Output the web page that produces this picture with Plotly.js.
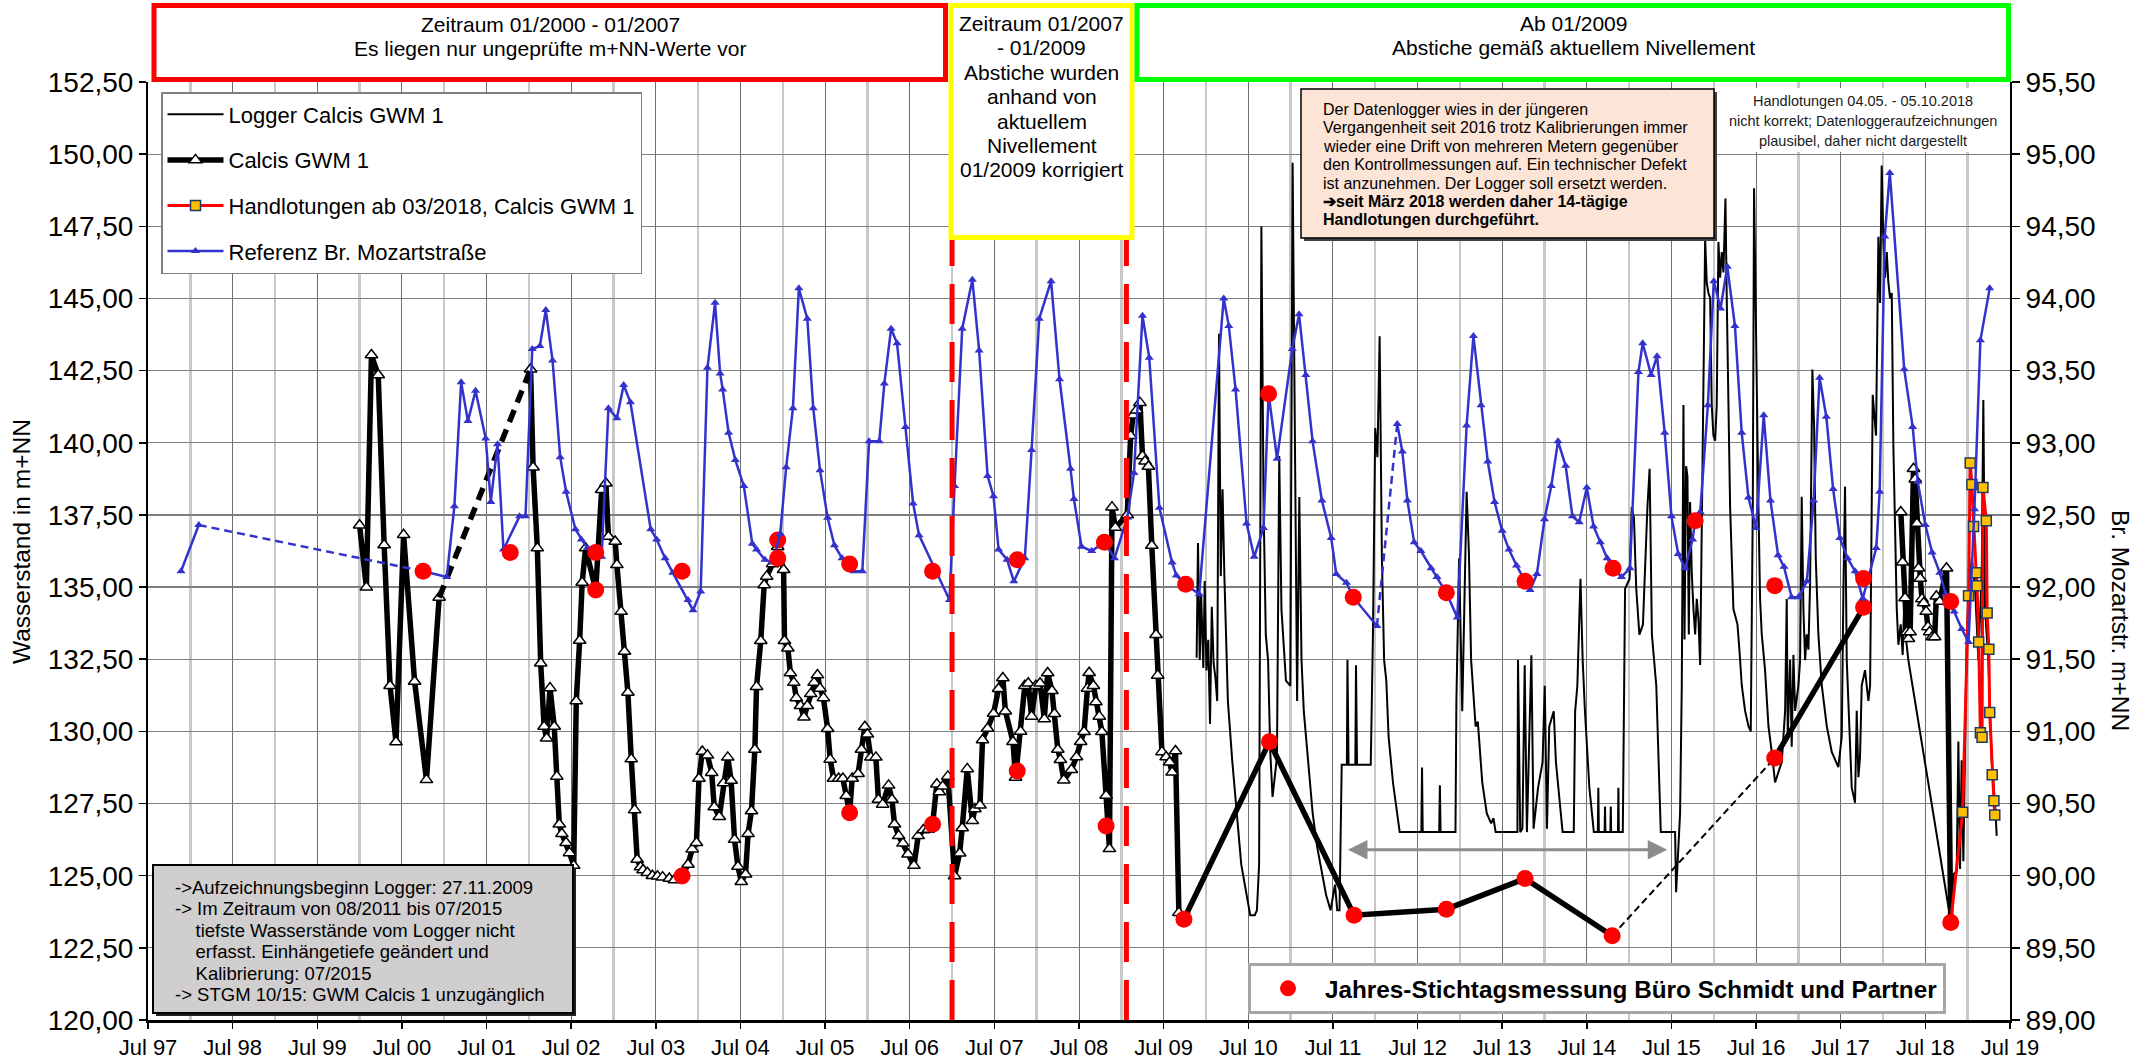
<!DOCTYPE html>
<html>
<head>
<meta charset="utf-8">
<script src="https://cdn.plot.ly/plotly-3.0.1.min.js"></script>
<style>
  html, body { margin: 0; padding: 0; background: #fff; overflow: hidden; }
  #chart { width: 2149px; height: 1063px; }
</style>
</head>
<body>
<div id="chart"></div>
<script>
// Grundwassermessstelle Calcis GWM 1 – Wasserstände 1997–2019
// Zeit als Dezimaljahr, Wasserstände in m+NN

const xTickLabels = ['Jul 97','Jul 98','Jul 99','Jul 00','Jul 01','Jul 02','Jul 03','Jul 04','Jul 05','Jul 06','Jul 07',
  'Jul 08','Jul 09','Jul 10','Jul 11','Jul 12','Jul 13','Jul 14','Jul 15','Jul 16','Jul 17','Jul 18','Jul 19'];

// Datenlogger Calcis GWM 1 (ab 27.11.2009)
const loggerT = [
  2009.890, 2009.906, 2009.927, 2009.943, 2009.969, 2009.985, 2010.006, 2010.027, 2010.048, 2010.069,
  2010.090, 2010.112, 2010.133, 2010.154, 2010.175, 2010.196, 2010.217, 2010.259, 2010.312, 2010.365,
  2010.417, 2010.470, 2010.523, 2010.576, 2010.602, 2010.628, 2010.655, 2010.681, 2010.707, 2010.734,
  2010.760, 2010.787, 2010.839, 2010.866, 2010.892, 2010.945, 2010.997, 2011.024, 2011.050, 2011.077,
  2011.103, 2011.129, 2011.156, 2011.208, 2011.261, 2011.314, 2011.367, 2011.419, 2011.472, 2011.525,
  2011.551, 2011.578, 2011.604, 2011.665, 2011.672, 2011.685, 2011.765, 2011.773, 2011.785, 2011.947,
  2011.973, 2012.000, 2012.026, 2012.052, 2012.079, 2012.105, 2012.131, 2012.158, 2012.210, 2012.263,
  2012.289, 2012.545, 2012.553, 2012.561, 2012.756, 2012.764, 2012.772, 2012.948, 2012.959, 2012.991,
  2013.028, 2013.080, 2013.107, 2013.133, 2013.186, 2013.212, 2013.265, 2013.318, 2013.370, 2013.397,
  2013.423, 2013.680, 2013.687, 2013.713, 2013.739, 2013.766, 2013.792, 2013.845, 2013.871, 2013.924,
  2013.977, 2014.003, 2014.029, 2014.056, 2014.109, 2014.135, 2014.188, 2014.214, 2014.346, 2014.362,
  2014.388, 2014.425, 2014.451, 2014.478, 2014.530, 2014.583, 2014.630, 2014.636, 2014.642, 2014.710,
  2014.715, 2014.720, 2014.778, 2014.783, 2014.788, 2014.868, 2014.873, 2014.878, 2014.925, 2014.952,
  2015.005, 2015.031, 2015.057, 2015.084, 2015.121, 2015.163, 2015.216, 2015.242, 2015.269, 2015.321,
  2015.374, 2015.543, 2015.555, 2015.583, 2015.602, 2015.622, 2015.642, 2015.654, 2015.673, 2015.689,
  2015.705, 2015.720, 2015.740, 2015.760, 2015.780, 2015.799, 2015.819, 2015.839, 2015.858, 2015.878,
  2015.898, 2015.917, 2015.937, 2015.957, 2015.976, 2015.996, 2016.016, 2016.035, 2016.055, 2016.075,
  2016.095, 2016.114, 2016.138, 2016.154, 2016.173, 2016.193, 2016.232, 2016.280, 2016.303, 2016.331,
  2016.370, 2016.410, 2016.437, 2016.461, 2016.476, 2016.500, 2016.528, 2016.547, 2016.567, 2016.606,
  2016.646, 2016.685, 2016.724, 2016.764, 2016.803, 2016.843, 2016.862, 2016.874, 2016.902, 2016.921,
  2016.941, 2016.961, 2017.000, 2017.020, 2017.039, 2017.059, 2017.079, 2017.098, 2017.118, 2017.138,
  2017.165, 2017.185, 2017.205, 2017.236, 2017.276, 2017.335, 2017.394, 2017.472, 2017.512, 2017.532,
  2017.551, 2017.571, 2017.591, 2017.630, 2017.669, 2017.689, 2017.709, 2017.728, 2017.748, 2017.787,
  2017.827, 2017.847, 2017.878, 2017.894, 2017.917, 2017.945, 2017.965, 2017.984, 2018.004, 2018.024,
  2018.044, 2018.063, 2018.083, 2018.103, 2018.122, 2018.162, 2018.181, 2018.209, 2018.232, 2018.252,
  2018.272, 2018.299, 2018.803, 2018.831, 2018.870, 2018.890, 2018.910, 2018.929, 2018.949, 2018.988,
  2019.008, 2019.048, 2019.087, 2019.126, 2019.166, 2019.185, 2019.205, 2019.244, 2019.284, 2019.323,
  2019.343
];
const loggerV = [
  132.55, 136.53, 132.47, 134.77, 132.20, 135.21, 132.11, 133.17, 130.26, 134.32,
  132.38, 131.85, 131.05, 143.78, 135.38, 138.39, 135.47, 131.05, 128.93, 127.16,
  125.39, 124.51, 123.63, 123.63, 123.80, 125.39, 147.49, 137.77, 133.35, 132.47,
  129.28, 127.73, 129.11, 139.54, 134.23, 131.76, 131.58, 149.70, 140.24, 131.05,
  138.12, 132.47, 130.70, 128.93, 127.16, 126.00, 125.20, 124.34, 123.80, 124.69,
  123.80, 123.80, 128.84, 128.84, 132.47, 128.84, 128.84, 132.29, 128.84, 128.84,
  133.35, 140.51, 139.50, 143.69, 136.00, 132.47, 131.76, 129.81, 128.22, 127.16,
  126.51, 126.51, 128.75, 126.51, 126.51, 128.13, 126.51, 126.51, 131.05, 136.00,
  130.70, 138.30, 136.18, 132.47, 130.17, 130.34, 128.22, 127.16, 126.81, 126.99,
  126.51, 126.51, 132.47, 126.51, 126.63, 132.29, 126.51, 132.64, 126.63, 128.05,
  128.93, 131.58, 126.63, 130.17, 130.70, 128.93, 127.16, 126.51, 126.51, 130.70,
  131.58, 135.29, 132.47, 130.70, 128.05, 126.51, 126.51, 128.05, 126.51, 126.51,
  127.40, 126.51, 126.51, 127.40, 126.51, 126.51, 128.05, 126.51, 126.51, 134.94,
  135.29, 137.77, 137.40, 134.94, 133.35, 133.70, 137.77, 139.10, 133.35, 131.58,
  126.51, 126.51, 124.43, 126.11, 127.17, 131.59, 141.31, 133.18, 139.19, 138.83,
  133.36, 137.95, 135.48, 134.24, 133.36, 134.59, 133.89, 132.30, 137.77, 141.66,
  147.05, 145.55, 145.19, 145.02, 141.31, 140.25, 140.07, 141.31, 146.96, 145.72,
  146.61, 145.90, 148.46, 144.84, 141.31, 137.77, 134.24, 133.71, 132.83, 131.59,
  130.71, 130.18, 130.00, 137.77, 148.82, 143.07, 137.77, 134.59, 133.36, 132.12,
  130.18, 129.29, 128.23, 128.59, 128.94, 130.71, 134.59, 129.82, 132.47, 129.47,
  132.65, 130.71, 131.59, 132.47, 138.13, 134.24, 132.47, 133.36, 132.83, 135.12,
  142.54, 140.60, 136.01, 133.36, 131.59, 130.18, 129.29, 128.76, 129.82, 134.95,
  138.48, 132.47, 130.71, 128.05, 127.53, 130.71, 128.41, 129.12, 131.59, 132.12,
  131.06, 131.59, 141.66, 140.95, 140.25, 147.14, 144.84, 149.61, 146.96, 145.72,
  146.61, 145.55, 145.00, 145.19, 139.89, 134.24, 133.00, 133.71, 132.65, 134.59,
  133.18, 132.47, 123.37, 125.05, 125.14, 129.65, 125.23, 129.00, 125.50, 133.18,
  134.50, 136.01, 135.00, 132.47, 135.50, 141.48, 134.24, 132.47, 128.94, 127.53,
  126.38
];

// Calcis GWM 1 – Einzelmessungen (Lücken als null)
const gwmT = [
  2000.00, 2000.08, 2000.14, 2000.22, 2000.29, 2000.36, 2000.43, 2000.52, 2000.65, 2000.79,
  2000.94, null, 2002.02, 2002.05, 2002.10, 2002.14, 2002.18, 2002.21, 2002.25, 2002.30,
  2002.33, 2002.36, 2002.39, 2002.44, 2002.48, 2002.53, 2002.56, 2002.60, 2002.63, 2002.67,
  2002.79, 2002.86, 2002.91, 2002.94, 2003.02, 2003.04, 2003.09, 2003.13, 2003.17, 2003.21,
  2003.25, 2003.28, 2003.32, 2003.35, 2003.40, 2003.46, 2003.52, 2003.58, 2003.66, 2003.72,
  2003.81, 2003.88, 2003.93, 2003.98, 2004.01, 2004.05, 2004.11, 2004.16, 2004.19, 2004.25,
  2004.30, 2004.35, 2004.39, 2004.43, 2004.47, 2004.51, 2004.56, 2004.59, 2004.63, 2004.67,
  2004.69, 2004.74, 2004.78, 2004.81, 2004.88, 2004.94, 2005.01, 2005.02, 2005.06, 2005.09,
  2005.13, 2005.16, 2005.21, 2005.25, 2005.29, 2005.33, 2005.37, 2005.41, 2005.44, 2005.48,
  2005.53, 2005.56, 2005.60, 2005.66, 2005.71, 2005.75, 2005.79, 2005.82, 2005.89, 2005.93,
  2005.97, 2006.00, 2006.04, 2006.10, 2006.13, 2006.18, 2006.25, 2006.29, 2006.32, 2006.37,
  2006.42, 2006.48, 2006.55, 2006.60, 2006.66, 2006.72, 2006.77, 2006.82, 2006.85, 2006.89,
  2006.95, 2007.03, 2007.09, 2007.12, 2007.18, 2007.24, 2007.27, 2007.33, 2007.36, 2007.42,
  2007.49, 2007.55, 2007.60, 2007.63, 2007.72, 2007.75, 2007.81, 2007.86, 2007.90, 2007.94,
  2007.99, 2008.04, 2008.09, 2008.13, 2008.18, 2008.21, 2008.25, 2008.28, 2008.32, 2008.41,
  2008.47, 2008.52, 2008.56, 2008.60, 2008.62, 2008.67, 2008.70, 2008.74, 2008.77, 2008.82,
  2008.86, 2008.89, 2008.93, 2009.07, 2009.11, 2009.14, 2009.18, 2009.22, 2009.25, 2009.28,
  2009.32, 2009.36, 2009.41, 2009.43, 2009.48, 2009.53, 2009.57, 2009.60, 2009.64, 2009.68,
  2009.74, 2010.75, 2011.75, 2012.84, 2013.77, 2014.80, null, 2016.72, 2017.77, null,
  2018.21, 2018.23, 2018.26, 2018.28, 2018.30, 2018.32, 2018.36, 2018.38, 2018.40, 2018.42,
  2018.44, 2018.46, 2018.48, 2018.51, 2018.53, 2018.55, 2018.58, 2018.61, 2018.63, 2018.67,
  2018.75, 2018.80
];
const gwmV = [
  137.14, 134.99, 143.04, 142.35, 136.46, 131.58, 129.63, 136.81, 131.73, 128.32,
  134.64, null, 142.55, 139.15, 136.35, 132.36, 130.17, 129.76, 131.50, 130.17,
  128.44, 126.78, 126.45, 126.14, 125.79, 125.35, 131.05, 133.15, 135.16, 136.35,
  134.90, 138.37, 138.60, 136.75, 136.58, 135.77, 134.15, 132.77, 131.35, 129.04,
  127.28, 125.56, 125.30, 125.20, 125.10, 125.00, 124.98, 124.95, 124.90, 124.85,
  124.99, 125.39, 125.92, 126.14, 128.37, 129.30, 129.17, 128.57, 127.38, 127.04,
  128.21, 129.10, 128.30, 126.25, 125.32, 124.79, 125.05, 126.45, 127.24, 129.37,
  131.55, 133.14, 135.07, 135.37, 135.80, 136.40, 135.60, 133.14, 132.88, 132.02,
  131.69, 131.16, 130.89, 130.49, 130.89, 131.30, 131.69, 131.95, 131.49, 131.16,
  130.09, 129.03, 128.37, 128.37, 128.37, 127.77, 127.18, 128.37, 128.53, 129.37,
  130.16, 129.90, 129.10, 129.10, 127.64, 127.47, 128.13, 127.64, 126.78, 126.38,
  126.12, 125.74, 125.35, 126.38, 126.58, 126.60, 126.78, 128.17, 127.90, 128.10,
  128.44, 124.99, 125.78, 126.65, 128.70, 126.90, 127.31, 127.44, 129.70, 130.10,
  130.62, 131.48, 131.85, 130.70, 129.64, 128.40, 130.00, 131.58, 131.67, 130.52,
  131.58, 131.67, 130.43, 132.02, 131.41, 130.61, 129.37, 129.02, 128.31, 128.67,
  129.11, 129.64, 129.99, 131.49, 132.03, 131.58, 131.02, 130.52, 129.99, 127.78,
  125.93, 137.77, 137.06, 137.50, 140.24, 140.95, 141.13, 141.39, 139.54, 139.36,
  139.18, 136.44, 133.35, 131.94, 129.29, 129.11, 128.93, 128.58, 129.32, 123.72,
  123.49, 129.64, 123.63, 123.84, 124.90, 122.92, null, 129.08, 134.30, null,
  137.60, 135.86, 134.62, 133.44, 133.21, 133.44, 139.10, 138.74, 137.20, 135.65,
  135.30, 134.59, 134.45, 134.15, 133.62, 133.44, 133.27, 133.27, 134.68, 134.50,
  135.65, 123.38
];

// Handlotungen ab 03/2018
const handT = [2018.80, 2018.94, 2019.01, 2019.03, 2019.05, 2019.07, 2019.10, 2019.11, 2019.13, 2019.15,
  2019.17, 2019.18, 2019.22, 2019.23, 2019.25, 2019.26, 2019.29, 2019.31, 2019.32];
const handV = [123.38, 127.20, 134.70, 139.30, 138.55, 137.10, 135.50, 135.05, 133.10, 129.95,
  129.80, 138.45, 137.30, 134.10, 132.85, 130.65, 128.50, 127.60, 127.10];

// Referenzmessstelle Brunnen Mozartstraße (rechte Achse)
const refT = [
  1997.89, 1998.10, null, 2000.75, 2001.03, 2001.12, 2001.20, 2001.28, 2001.37, 2001.49,
  2001.55, 2001.63, 2001.70, 2001.89, 2001.96, 2002.04, 2002.13, 2002.20, 2002.28, 2002.37,
  2002.44, 2002.55, 2002.62, 2002.69, 2002.86, 2002.94, 2003.04, 2003.12, 2003.20, 2003.44,
  2003.51, 2003.61, 2003.70, 2003.88, 2003.94, 2004.03, 2004.11, 2004.20, 2004.26, 2004.29,
  2004.36, 2004.44, 2004.54, 2004.64, 2004.69, 2004.79, 2004.88, 2004.97, 2005.04, 2005.12,
  2005.19, 2005.29, 2005.36, 2005.44, 2005.53, 2005.61, 2005.70, 2005.84, 2005.94, 2006.02,
  2006.14, 2006.20, 2006.28, 2006.35, 2006.45, 2006.54, 2006.61, 2006.97, 2007.03, 2007.12,
  2007.24, 2007.32, 2007.42, 2007.49, 2007.55, 2007.65, 2007.73, 2007.86, 2007.94, 2008.03,
  2008.17, 2008.27, 2008.40, 2008.44, 2008.53, 2008.65, 2008.80, 2008.92, 2009.07, 2009.15,
  2009.25, 2009.33, 2009.45, 2009.60, 2009.65, 2009.76, 2009.92, 2010.21, 2010.27, 2010.35,
  2010.48, 2010.57, 2010.68, 2010.74, 2010.84, 2011.02, 2011.10, 2011.18, 2011.26, 2011.37,
  2011.48, 2011.54, 2011.66, 2011.74, 2012.02, null, 2012.26, 2012.32, 2012.38, 2012.46,
  2012.54, 2012.66, 2012.73, 2012.84, 2012.97, 2013.08, 2013.16, 2013.25, 2013.33, 2013.41,
  2013.50, 2013.58, 2013.67, 2013.77, 2013.83, 2013.91, 2014.00, 2014.08, 2014.16, 2014.25,
  2014.33, 2014.41, 2014.50, 2014.58, 2014.66, 2014.74, 2014.81, 2014.91, 2015.01, 2015.11,
  2015.16, 2015.26, 2015.33, 2015.42, 2015.50, 2015.58, 2015.66, 2015.75, 2015.78, 2015.84,
  2015.93, 2016.00, 2016.08, 2016.16, 2016.25, 2016.33, 2016.41, 2016.50, 2016.59, 2016.67,
  2016.76, 2016.83, 2016.92, 2017.00, 2017.10, 2017.18, 2017.25, 2017.33, 2017.41, 2017.49,
  2017.58, 2017.67, 2017.76, 2017.92, 2017.96, 2018.02, 2018.08, 2018.25, 2018.35, 2018.41,
  2018.50, 2018.58, 2018.67, 2018.74, 2018.84, 2018.93, 2019.01, 2019.08, 2019.15, 2019.26
];
const refV = [
  92.11, 92.43, null, 92.11, 92.07, 92.56, 93.42, 93.15, 93.36, 93.03,
  92.59, 92.99, 92.26, 92.49, 92.49, 93.65, 93.67, 93.92, 93.57, 92.90,
  92.66, 92.40, 92.33, 92.27, 92.21, 93.24, 93.17, 93.40, 93.28, 92.40,
  92.33, 92.20, 92.10, 91.91, 91.84, 91.97, 93.52, 93.97, 93.48, 93.37,
  93.07, 92.88, 92.70, 92.30, 92.26, 92.19, 92.17, 92.37, 92.83, 93.24,
  94.07, 93.86, 93.24, 92.81, 92.48, 92.29, 92.20, 92.11, 92.11, 93.01,
  93.01, 93.41, 93.79, 93.69, 93.11, 92.58, 92.36, 91.91, 92.70, 93.79,
  94.13, 93.64, 92.77, 92.63, 92.26, 92.19, 92.04, 92.20, 92.95, 93.86,
  94.12, 93.44, 92.82, 92.61, 92.28, 92.25, 92.31, 92.20, 92.48, 92.79,
  93.88, 93.59, 92.55, 92.17, 92.08, 92.02, 91.95, 94.00, 93.81, 93.37,
  92.44, 92.21, 92.41, 93.34, 92.89, 93.65, 93.89, 93.47, 93.01, 92.60,
  92.34, 92.09, 92.03, 91.93, 91.73, null, 93.13, 92.94, 92.60, 92.31,
  92.25, 92.13, 92.07, 91.96, 91.79, 93.12, 93.74, 93.26, 92.87, 92.59,
  92.39, 92.26, 92.15, 92.04, 91.98, 92.09, 92.47, 92.70, 93.01, 92.84,
  92.49, 92.45, 92.69, 92.42, 92.31, 92.20, 92.13, 92.07, 92.13, 93.49,
  93.69, 93.47, 93.60, 93.07, 92.49, 92.23, 92.13, 92.33, 92.46, 92.52,
  93.26, 94.12, 93.93, 94.22, 93.81, 93.07, 92.62, 92.41, 93.19, 92.60,
  92.22, 92.14, 91.93, 91.93, 92.04, 92.60, 93.45, 93.18, 92.68, 92.34,
  92.20, 92.11, 91.92, 92.27, 92.66, 94.43, 94.87, 93.51, 93.11, 92.73,
  92.43, 92.24, 92.10, 91.95, 91.83, 91.71, 91.62, 92.54, 93.71, 94.07
];

// Jahres-Stichtagsmessung Büro Schmidt und Partner
const stichGwmT = [2002.79, 2003.81, 2004.94, 2005.79, 2006.77, 2007.77, 2008.82, 2009.74, 2010.75,
  2011.75, 2012.84, 2013.77, 2014.80, 2016.72, 2017.77, 2018.80];
const stichGwmV = [134.90, 124.99, 136.63, 127.18, 126.78, 128.63, 126.72, 123.49, 129.64,
  123.63, 123.84, 124.90, 122.92, 129.08, 134.30, 123.38];
const stichRefT = [2000.75, 2001.78, 2002.79, 2003.81, 2004.94, 2005.79, 2006.77, 2007.77, 2008.80, 2009.76,
  2010.74, 2011.74, 2012.84, 2013.77, 2014.81, 2015.78, 2016.72, 2017.77, 2018.80];
const stichRefV = [92.11, 92.24, 92.24, 92.11, 92.20, 92.16, 92.11, 92.19, 92.31, 92.02,
  93.34, 91.93, 91.96, 92.04, 92.13, 92.46, 92.01, 92.06, 91.90];

// ---------------------------------------------------------------------------
const FONT = 'Liberation Sans, Arial, Helvetica, sans-serif';
const BLUE = '#3333cc';

// plot area in pixels (left, right, top, bottom)
const PA = { l: 148, r: 2010, t: 82, b: 1020 };
const px = x => (x - PA.l) / (PA.r - PA.l);
const py = y => (PA.b - y) / (PA.b - PA.t);

// dashed connectors across the null gaps of a series
function gapBridges(t, v) {
  const out = [];
  t.forEach((tt, i) => {
    if (tt === null && i > 0 && i < t.length - 1) out.push({ x: [t[i - 1], t[i + 1]], y: [v[i - 1], v[i + 1]] });
  });
  return out;
}
const gwmGaps = gapBridges(gwmT, gwmV);
const refGaps = gapBridges(refT, refV);

const traces = [
  { name: 'Logger Calcis GWM 1', x: loggerT, y: loggerV, mode: 'lines',
    line: { color: '#000', width: 2 }, legendgroup: 'logger' },
  { name: 'Calcis GWM 1', x: gwmT, y: gwmV, mode: 'lines+markers',
    line: { color: '#000', width: 5.5 },
    marker: { symbol: 'triangle-up', size: 11, color: '#fff', line: { color: '#000', width: 1.5 } },
    legendgroup: 'gwm' },
  { x: gwmGaps[0].x, y: gwmGaps[0].y, mode: 'lines', showlegend: false, legendgroup: 'gwm',
    line: { color: '#000', width: 5.5, dash: '13px,8px' } },
  { x: gwmGaps[1].x, y: gwmGaps[1].y, mode: 'lines', showlegend: false, legendgroup: 'gwm',
    line: { color: '#000', width: 2, dash: '7px,4px' } },
  { name: 'Handlotungen ab 03/2018, Calcis GWM 1', x: handT, y: handV, mode: 'lines+markers',
    line: { color: '#ff0000', width: 3 },
    marker: { symbol: 'square', size: 10, color: '#ffc000', line: { color: '#1f3864', width: 1.5 } },
    legendgroup: 'hand' },
  { name: 'Referenz Br. Mozartstraße', x: refT, y: refV, yaxis: 'y2', mode: 'lines+markers',
    line: { color: BLUE, width: 2.5 }, marker: { symbol: 'triangle-up', size: 8, color: BLUE },
    legendgroup: 'ref' },
  ...refGaps.map(g => ({ x: g.x, y: g.y, yaxis: 'y2', mode: 'lines', showlegend: false, legendgroup: 'ref',
    line: { color: BLUE, width: 2.5, dash: '8px,5px' } })),
  { name: 'Jahres-Stichtagsmessung Büro Schmidt und Partner', x: stichGwmT, y: stichGwmV, mode: 'markers',
    marker: { color: '#ff0000', size: 17 }, legend: 'legend2' },
  { name: 'Jahres-Stichtagsmessung Büro Schmidt und Partner', x: stichRefT, y: stichRefV, yaxis: 'y2',
    mode: 'markers', marker: { color: '#ff0000', size: 17 }, legend: 'legend2', showlegend: false }
];

// text placed line by line (pixel positions)
function lineAnnos(lines, x, y0, dy, font, anchor) {
  return lines.map((s, i) => ({
    xref: 'paper', yref: 'paper', x: px(x), y: py(y0 + i * dy),
    xanchor: anchor, yanchor: 'middle', text: s, showarrow: false,
    font: Object.assign({ family: FONT, color: '#000' }, font)
  }));
}

const rectPx = (x0, y0, x1, y1, extra) => Object.assign({
  type: 'rect', xref: 'paper', yref: 'paper', x0: px(x0), x1: px(x1), y0: py(y1), y1: py(y0), layer: 'above'
}, extra);

const shapes = [
  // Zeitraum-Grenzen 01/2007 und 01/2009
  { type: 'line', xref: 'x', yref: 'paper', x0: 2007.0, x1: 2007.0, y0: 0, y1: py(240), layer: 'above',
    line: { color: '#ff0000', width: 5, dash: '40px,18px' } },
  { type: 'line', xref: 'x', yref: 'paper', x0: 2009.06, x1: 2009.06, y0: 0, y1: py(240), layer: 'above',
    line: { color: '#ff0000', width: 5, dash: '40px,18px' } },
  // Zeitraum-Kästen
  rectPx(154, 5.5, 945.5, 79.5, { line: { color: '#ff0000', width: 5 }, fillcolor: '#fff' }),
  rectPx(951, 5.5, 1132, 237.5, { line: { color: '#ffff00', width: 5 }, fillcolor: '#fff' }),
  rectPx(1137, 5.5, 2008.5, 79.5, { line: { color: '#00ff00', width: 5 }, fillcolor: '#fff' }),
  // Hinweis Datenlogger
  rectPx(1304, 92, 1717, 241, { line: { width: 0 }, fillcolor: '#404040' }),
  rectPx(1301, 89, 1714, 238, { line: { color: '#000', width: 1.5 }, fillcolor: '#fce4d6' }),
  // Hinweis Handlotungen
  rectPx(1722, 88, 2004, 152, { line: { width: 0 }, fillcolor: '#fff' }),
  // Hinweis Aufzeichnung
  rectPx(156, 868, 576, 1016, { line: { width: 0 }, fillcolor: '#202020' }),
  rectPx(153, 865, 573, 1013, { line: { color: '#000', width: 2 }, fillcolor: '#d0cece' })
];

const annotations = [
  ...lineAnnos(['Zeitraum 01/2000 - 01/2007', 'Es liegen nur ungeprüfte m+NN-Werte vor'],
    550, 25, 23.5, { size: 21 }, 'center'),
  ...lineAnnos(['Zeitraum 01/2007', '- 01/2009', 'Abstiche wurden', 'anhand von', 'aktuellem', 'Nivellement',
    '01/2009 korrigiert'], 1041.5, 23.5, 24.4, { size: 21 }, 'center'),
  ...lineAnnos(['Ab 01/2009', 'Abstiche gemäß aktuellem Nivellement'], 1573, 23.5, 23.5, { size: 21 }, 'center'),
  ...lineAnnos(['Der Datenlogger wies in der jüngeren',
    'Vergangenheit seit 2016 trotz Kalibrierungen immer',
    'wieder eine Drift von mehreren Metern gegenüber',
    'den Kontrollmessungen auf. Ein technischer Defekt',
    'ist anzunehmen. Der Logger soll ersetzt werden.',
    '<b>➔seit März 2018 werden daher 14-tägige</b>',
    '<b>Handlotungen durchgeführt.</b>'], 1321, 109.5, 18.4, { size: 16 }, 'left'),
  ...lineAnnos(['Handlotungen 04.05. - 05.10.2018', 'nicht korrekt; Datenloggeraufzeichnungen',
    'plausibel, daher nicht dargestellt'], 1862.5, 101, 20, { size: 14.5, color: '#1a1a1a' }, 'center'),
  ...lineAnnos(['->Aufzeichnungsbeginn Logger: 27.11.2009',
    '-> Im Zeitraum von 08/2011 bis 07/2015',
    '\u00a0\u00a0\u00a0\u00a0tiefste Wasserstände vom Logger nicht',
    '\u00a0\u00a0\u00a0\u00a0erfasst. Einhängetiefe geändert und',
    '\u00a0\u00a0\u00a0\u00a0Kalibrierung: 07/2015',
    '-> STGM 10/15: GWM Calcis 1 unzugänglich'], 172.5, 887, 21.5, { size: 18.5 }, 'left'),
  // Achsentitel
  { xref: 'paper', yref: 'paper', x: px(21), y: py(541), xanchor: 'center', yanchor: 'middle',
    text: 'Wasserstand in m+NN', textangle: -90, showarrow: false,
    font: { family: FONT, size: 24.5, color: '#000' } },
  { xref: 'paper', yref: 'paper', x: px(2121), y: py(620), xanchor: 'center', yanchor: 'middle',
    text: 'Br. Mozartstr. m+NN', textangle: 90, showarrow: false,
    font: { family: FONT, size: 24.5, color: '#000' } },
  // Zeitraum ohne tiefste Wasserstände (08/2011 – 07/2015)
  { xref: 'x', yref: 'y', x: 2015.45, y: 125.9, axref: 'x', ayref: 'y', ax: 2011.66, ay: 125.9,
    text: '', showarrow: true, arrowside: 'end+start', arrowhead: 2, startarrowhead: 2,
    arrowsize: 1.3, startarrowsize: 1.3, arrowwidth: 3, arrowcolor: '#8c8c8c' }
];

const layout = {
  width: 2149, height: 1063,
  margin: { l: PA.l, r: 2149 - PA.r, t: PA.t, b: 1063 - PA.b, pad: 0 },
  paper_bgcolor: '#fff', plot_bgcolor: '#fff',
  separators: ',.',
  font: { family: FONT, color: '#000' },
  showlegend: true,
  hovermode: false,
  xaxis: {
    range: [1997.5, 2019.5], tickmode: 'array',
    tickvals: xTickLabels.map((_, i) => 1997.5 + i), ticktext: xTickLabels,
    ticks: 'outside', ticklen: 6, tickwidth: 1.5, tickcolor: '#000',
    tickfont: { family: FONT, size: 22, color: '#000' },
    showline: true, linecolor: '#000', linewidth: 2.5,
    showgrid: true, gridcolor: '#6f6f6f', gridwidth: 1,
    minor: { tickmode: 'linear', tick0: 1998, dtick: 1, showgrid: true, gridcolor: '#c8c8c8', gridwidth: 2.5 },
    zeroline: false, fixedrange: true
  },
  yaxis: {
    range: [120, 152.5], tick0: 120, dtick: 2.5, tickformat: '.2f',
    ticks: 'outside', ticklen: 7, tickwidth: 1.5, tickcolor: '#000',
    tickfont: { family: FONT, size: 28, color: '#000' },
    showline: true, linecolor: '#000', linewidth: 2,
    showgrid: true, gridcolor: '#7f7f7f', gridwidth: 1.2,
    zeroline: false, fixedrange: true
  },
  yaxis2: {
    overlaying: 'y', side: 'right',
    range: [89, 95.5], tick0: 89, dtick: 0.5, tickformat: '.2f',
    ticks: 'outside', ticklen: 8, tickwidth: 1.5, tickcolor: '#000',
    tickfont: { family: FONT, size: 28, color: '#000' },
    showline: true, linecolor: '#000', linewidth: 2,
    showgrid: false, zeroline: false, fixedrange: true
  },
  legend: {
    x: px(161), y: py(92), xanchor: 'left', yanchor: 'top',
    bgcolor: '#fff', bordercolor: '#808080', borderwidth: 1.5,
    font: { family: FONT, size: 22, color: '#000' },
    itemwidth: 56, traceorder: 'grouped', tracegroupgap: 14
  },
  legend2: {
    x: px(1248), y: py(963), xanchor: 'left', yanchor: 'top',
    bgcolor: '#fff', bordercolor: '#a6a6a6', borderwidth: 3,
    font: { family: FONT, size: 24.3, color: '#000', weight: 'bold' },
    itemwidth: 64
  },
  shapes, annotations
};

Plotly.newPlot('chart', traces, layout, { staticPlot: true, displayModeBar: false });
</script>
</body>
</html>
